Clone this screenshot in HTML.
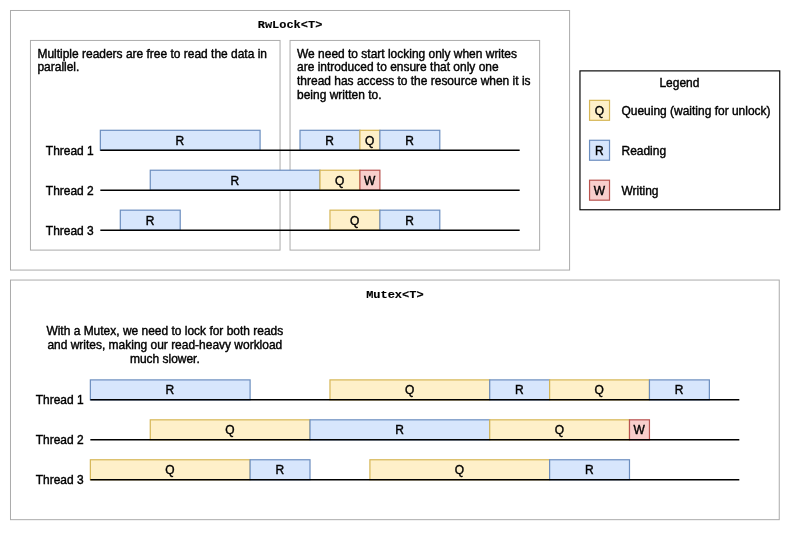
<!DOCTYPE html>
<html><head><meta charset="utf-8"><style>
html,body{margin:0;padding:0;background:#fff;}
svg{display:block;will-change:transform;}
</style></head><body>
<svg width="800" height="550" viewBox="0 0 800 550">
<rect x="0" y="0" width="800" height="550" fill="#fff"/>
<g transform="scale(0.9984)">
<rect x="10.5" y="10.5" width="560" height="260" fill="#ffffff" stroke="#ababab" stroke-width="1"/>
<g transform="translate(290.5,28.5) scale(1,0.92)">
<text x="0" y="0" font-family='"Liberation Mono", monospace' font-size="12" font-weight="bold" text-anchor="middle" fill="#000" stroke="#000" stroke-width="0.15">RwLock&lt;T&gt;</text>
</g>
<rect x="30.5" y="40.5" width="250" height="210" fill="#ffffff" stroke="#ababab" stroke-width="1"/>
<rect x="290.5" y="40.5" width="250" height="210" fill="#ffffff" stroke="#ababab" stroke-width="1"/>
<text x="37.5" y="57.7" font-family='"Liberation Sans", sans-serif' font-size="12" font-weight="normal" text-anchor="start" fill="#000" stroke="#000" stroke-width="0.4">Multiple readers are free to read the data in</text>
<text x="37.5" y="71.60000000000001" font-family='"Liberation Sans", sans-serif' font-size="12" font-weight="normal" text-anchor="start" fill="#000" stroke="#000" stroke-width="0.4">parallel.</text>
<text x="297.5" y="57.7" font-family='"Liberation Sans", sans-serif' font-size="12" font-weight="normal" text-anchor="start" fill="#000" stroke="#000" stroke-width="0.4">We need to start locking only when writes</text>
<text x="297.5" y="71.60000000000001" font-family='"Liberation Sans", sans-serif' font-size="12" font-weight="normal" text-anchor="start" fill="#000" stroke="#000" stroke-width="0.4">are introduced to ensure that only one</text>
<text x="297.5" y="85.5" font-family='"Liberation Sans", sans-serif' font-size="12" font-weight="normal" text-anchor="start" fill="#000" stroke="#000" stroke-width="0.4">thread has access to the resource when it is</text>
<text x="297.5" y="99.4" font-family='"Liberation Sans", sans-serif' font-size="12" font-weight="normal" text-anchor="start" fill="#000" stroke="#000" stroke-width="0.4">being written to.</text>
<text x="93.9" y="155" font-family='"Liberation Sans", sans-serif' font-size="12" font-weight="normal" text-anchor="end" fill="#000" stroke="#000" stroke-width="0.4">Thread 1</text>
<text x="93.9" y="195" font-family='"Liberation Sans", sans-serif' font-size="12" font-weight="normal" text-anchor="end" fill="#000" stroke="#000" stroke-width="0.4">Thread 2</text>
<text x="93.9" y="235" font-family='"Liberation Sans", sans-serif' font-size="12" font-weight="normal" text-anchor="end" fill="#000" stroke="#000" stroke-width="0.4">Thread 3</text>
<rect x="100.5" y="130.5" width="160" height="20" fill="#d7e6fc" stroke="#6c8ebf" stroke-width="1.2"/>
<text x="180.2" y="145.1" font-family='"Liberation Sans", sans-serif' font-size="12" font-weight="normal" text-anchor="middle" fill="#000" stroke="#000" stroke-width="0.4">R</text>
<rect x="300.5" y="130.5" width="60" height="20" fill="#d7e6fc" stroke="#6c8ebf" stroke-width="1.2"/>
<text x="330.2" y="145.1" font-family='"Liberation Sans", sans-serif' font-size="12" font-weight="normal" text-anchor="middle" fill="#000" stroke="#000" stroke-width="0.4">R</text>
<rect x="360.5" y="130.5" width="20" height="20" fill="#fef0c9" stroke="#d6b656" stroke-width="1.2"/>
<text x="370.2" y="145.1" font-family='"Liberation Sans", sans-serif' font-size="12" font-weight="normal" text-anchor="middle" fill="#000" stroke="#000" stroke-width="0.4">Q</text>
<rect x="380.5" y="130.5" width="60" height="20" fill="#d7e6fc" stroke="#6c8ebf" stroke-width="1.2"/>
<text x="410.2" y="145.1" font-family='"Liberation Sans", sans-serif' font-size="12" font-weight="normal" text-anchor="middle" fill="#000" stroke="#000" stroke-width="0.4">R</text>
<rect x="150.5" y="170.5" width="170" height="20" fill="#d7e6fc" stroke="#6c8ebf" stroke-width="1.2"/>
<text x="235.2" y="185.1" font-family='"Liberation Sans", sans-serif' font-size="12" font-weight="normal" text-anchor="middle" fill="#000" stroke="#000" stroke-width="0.4">R</text>
<rect x="320.5" y="170.5" width="40" height="20" fill="#fef0c9" stroke="#d6b656" stroke-width="1.2"/>
<text x="340.2" y="185.1" font-family='"Liberation Sans", sans-serif' font-size="12" font-weight="normal" text-anchor="middle" fill="#000" stroke="#000" stroke-width="0.4">Q</text>
<rect x="360.5" y="170.5" width="20" height="20" fill="#f8cecc" stroke="#b85450" stroke-width="1.2"/>
<text x="370.2" y="185.1" font-family='"Liberation Sans", sans-serif' font-size="12" font-weight="normal" text-anchor="middle" fill="#000" stroke="#000" stroke-width="0.4">W</text>
<rect x="120.5" y="210.5" width="60" height="20" fill="#d7e6fc" stroke="#6c8ebf" stroke-width="1.2"/>
<text x="150.2" y="225.1" font-family='"Liberation Sans", sans-serif' font-size="12" font-weight="normal" text-anchor="middle" fill="#000" stroke="#000" stroke-width="0.4">R</text>
<rect x="330.5" y="210.5" width="50" height="20" fill="#fef0c9" stroke="#d6b656" stroke-width="1.2"/>
<text x="355.2" y="225.1" font-family='"Liberation Sans", sans-serif' font-size="12" font-weight="normal" text-anchor="middle" fill="#000" stroke="#000" stroke-width="0.4">Q</text>
<rect x="380.5" y="210.5" width="60" height="20" fill="#d7e6fc" stroke="#6c8ebf" stroke-width="1.2"/>
<text x="410.2" y="225.1" font-family='"Liberation Sans", sans-serif' font-size="12" font-weight="normal" text-anchor="middle" fill="#000" stroke="#000" stroke-width="0.4">R</text>
<line x1="100.5" y1="150.5" x2="520.5" y2="150.5" stroke="#000" stroke-width="1.5"/>
<line x1="100.5" y1="190.5" x2="520.5" y2="190.5" stroke="#000" stroke-width="1.5"/>
<line x1="100.5" y1="230.5" x2="520.5" y2="230.5" stroke="#000" stroke-width="1.5"/>
<rect x="580.9" y="71.0" width="200.1" height="139.1" fill="#fff" stroke="#000" stroke-width="1.15"/>
<text x="680.5" y="87.5" font-family='"Liberation Sans", sans-serif' font-size="12" font-weight="normal" text-anchor="middle" fill="#000" stroke="#000" stroke-width="0.4">Legend</text>
<rect x="590.5" y="100.5" width="20" height="20" fill="#fef0c9" stroke="#d6b656" stroke-width="1.2"/>
<text x="600.3" y="115.0" font-family='"Liberation Sans", sans-serif' font-size="12" font-weight="normal" text-anchor="middle" fill="#000" stroke="#000" stroke-width="0.4">Q</text>
<text x="622.5" y="115.0" font-family='"Liberation Sans", sans-serif' font-size="12" font-weight="normal" text-anchor="start" fill="#000" stroke="#000" stroke-width="0.4">Queuing (waiting for unlock)</text>
<rect x="590.5" y="140.5" width="20" height="20" fill="#d7e6fc" stroke="#6c8ebf" stroke-width="1.2"/>
<text x="600.3" y="155.0" font-family='"Liberation Sans", sans-serif' font-size="12" font-weight="normal" text-anchor="middle" fill="#000" stroke="#000" stroke-width="0.4">R</text>
<text x="622.5" y="155.0" font-family='"Liberation Sans", sans-serif' font-size="12" font-weight="normal" text-anchor="start" fill="#000" stroke="#000" stroke-width="0.4">Reading</text>
<rect x="590.5" y="180.5" width="20" height="20" fill="#f8cecc" stroke="#b85450" stroke-width="1.2"/>
<text x="600.3" y="195.0" font-family='"Liberation Sans", sans-serif' font-size="12" font-weight="normal" text-anchor="middle" fill="#000" stroke="#000" stroke-width="0.4">W</text>
<text x="622.5" y="195.0" font-family='"Liberation Sans", sans-serif' font-size="12" font-weight="normal" text-anchor="start" fill="#000" stroke="#000" stroke-width="0.4">Writing</text>
<rect x="10.5" y="280.5" width="770" height="240" fill="#ffffff" stroke="#ababab" stroke-width="1"/>
<g transform="translate(395.5,298.0) scale(1,0.92)">
<text x="0" y="0" font-family='"Liberation Mono", monospace' font-size="12" font-weight="bold" text-anchor="middle" fill="#000" stroke="#000" stroke-width="0.15">Mutex&lt;T&gt;</text>
</g>
<text x="165.1" y="336.0" font-family='"Liberation Sans", sans-serif' font-size="12" font-weight="normal" text-anchor="middle" fill="#000" stroke="#000" stroke-width="0.4">With a Mutex, we need to lock for both reads</text>
<text x="165.1" y="349.9" font-family='"Liberation Sans", sans-serif' font-size="12" font-weight="normal" text-anchor="middle" fill="#000" stroke="#000" stroke-width="0.4">and writes, making our read-heavy workload</text>
<text x="165.1" y="363.8" font-family='"Liberation Sans", sans-serif' font-size="12" font-weight="normal" text-anchor="middle" fill="#000" stroke="#000" stroke-width="0.4">much slower.</text>
<text x="83.8" y="404.5" font-family='"Liberation Sans", sans-serif' font-size="12" font-weight="normal" text-anchor="end" fill="#000" stroke="#000" stroke-width="0.4">Thread 1</text>
<text x="83.8" y="444.5" font-family='"Liberation Sans", sans-serif' font-size="12" font-weight="normal" text-anchor="end" fill="#000" stroke="#000" stroke-width="0.4">Thread 2</text>
<text x="83.8" y="484.5" font-family='"Liberation Sans", sans-serif' font-size="12" font-weight="normal" text-anchor="end" fill="#000" stroke="#000" stroke-width="0.4">Thread 3</text>
<rect x="90.5" y="380.5" width="160" height="20" fill="#d7e6fc" stroke="#6c8ebf" stroke-width="1.2"/>
<text x="170.2" y="395.1" font-family='"Liberation Sans", sans-serif' font-size="12" font-weight="normal" text-anchor="middle" fill="#000" stroke="#000" stroke-width="0.4">R</text>
<rect x="330.5" y="380.5" width="160" height="20" fill="#fef0c9" stroke="#d6b656" stroke-width="1.2"/>
<text x="410.2" y="395.1" font-family='"Liberation Sans", sans-serif' font-size="12" font-weight="normal" text-anchor="middle" fill="#000" stroke="#000" stroke-width="0.4">Q</text>
<rect x="490.5" y="380.5" width="60" height="20" fill="#d7e6fc" stroke="#6c8ebf" stroke-width="1.2"/>
<text x="520.2" y="395.1" font-family='"Liberation Sans", sans-serif' font-size="12" font-weight="normal" text-anchor="middle" fill="#000" stroke="#000" stroke-width="0.4">R</text>
<rect x="550.5" y="380.5" width="100" height="20" fill="#fef0c9" stroke="#d6b656" stroke-width="1.2"/>
<text x="600.2" y="395.1" font-family='"Liberation Sans", sans-serif' font-size="12" font-weight="normal" text-anchor="middle" fill="#000" stroke="#000" stroke-width="0.4">Q</text>
<rect x="650.5" y="380.5" width="60" height="20" fill="#d7e6fc" stroke="#6c8ebf" stroke-width="1.2"/>
<text x="680.2" y="395.1" font-family='"Liberation Sans", sans-serif' font-size="12" font-weight="normal" text-anchor="middle" fill="#000" stroke="#000" stroke-width="0.4">R</text>
<rect x="150.5" y="420.5" width="160" height="20" fill="#fef0c9" stroke="#d6b656" stroke-width="1.2"/>
<text x="230.2" y="435.1" font-family='"Liberation Sans", sans-serif' font-size="12" font-weight="normal" text-anchor="middle" fill="#000" stroke="#000" stroke-width="0.4">Q</text>
<rect x="310.5" y="420.5" width="180" height="20" fill="#d7e6fc" stroke="#6c8ebf" stroke-width="1.2"/>
<text x="400.2" y="435.1" font-family='"Liberation Sans", sans-serif' font-size="12" font-weight="normal" text-anchor="middle" fill="#000" stroke="#000" stroke-width="0.4">R</text>
<rect x="490.5" y="420.5" width="140" height="20" fill="#fef0c9" stroke="#d6b656" stroke-width="1.2"/>
<text x="560.2" y="435.1" font-family='"Liberation Sans", sans-serif' font-size="12" font-weight="normal" text-anchor="middle" fill="#000" stroke="#000" stroke-width="0.4">Q</text>
<rect x="630.5" y="420.5" width="20" height="20" fill="#f8cecc" stroke="#b85450" stroke-width="1.2"/>
<text x="640.2" y="435.1" font-family='"Liberation Sans", sans-serif' font-size="12" font-weight="normal" text-anchor="middle" fill="#000" stroke="#000" stroke-width="0.4">W</text>
<rect x="90.5" y="460.5" width="160" height="20" fill="#fef0c9" stroke="#d6b656" stroke-width="1.2"/>
<text x="170.2" y="475.1" font-family='"Liberation Sans", sans-serif' font-size="12" font-weight="normal" text-anchor="middle" fill="#000" stroke="#000" stroke-width="0.4">Q</text>
<rect x="250.5" y="460.5" width="60" height="20" fill="#d7e6fc" stroke="#6c8ebf" stroke-width="1.2"/>
<text x="280.2" y="475.1" font-family='"Liberation Sans", sans-serif' font-size="12" font-weight="normal" text-anchor="middle" fill="#000" stroke="#000" stroke-width="0.4">R</text>
<rect x="370.5" y="460.5" width="180" height="20" fill="#fef0c9" stroke="#d6b656" stroke-width="1.2"/>
<text x="460.2" y="475.1" font-family='"Liberation Sans", sans-serif' font-size="12" font-weight="normal" text-anchor="middle" fill="#000" stroke="#000" stroke-width="0.4">Q</text>
<rect x="550.5" y="460.5" width="80" height="20" fill="#d7e6fc" stroke="#6c8ebf" stroke-width="1.2"/>
<text x="590.2" y="475.1" font-family='"Liberation Sans", sans-serif' font-size="12" font-weight="normal" text-anchor="middle" fill="#000" stroke="#000" stroke-width="0.4">R</text>
<line x1="90.5" y1="400.5" x2="740.5" y2="400.5" stroke="#000" stroke-width="1.5"/>
<line x1="90.5" y1="440.5" x2="740.5" y2="440.5" stroke="#000" stroke-width="1.5"/>
<line x1="90.5" y1="480.5" x2="740.5" y2="480.5" stroke="#000" stroke-width="1.5"/>
</g>
</svg>
</body></html>
